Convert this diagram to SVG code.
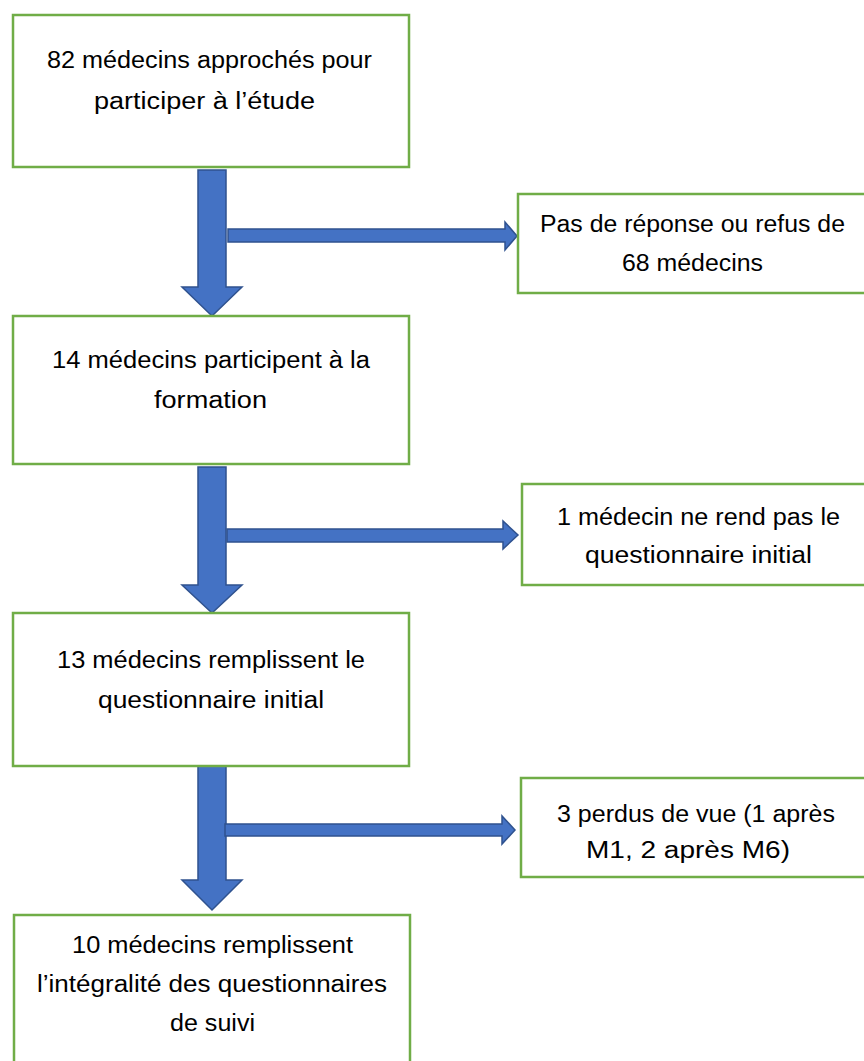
<svg xmlns="http://www.w3.org/2000/svg" width="864" height="1061" viewBox="0 0 864 1061">
<style>
.box{fill:#fff;stroke:#70AD47;stroke-width:2.5}
.arr{fill:#4472C4;stroke:#2F528F;stroke-width:1.5;stroke-linejoin:miter}
text{font-family:"Liberation Sans",Arial,sans-serif;font-size:23px;fill:#000;text-anchor:middle}
</style>
<rect width="864" height="1061" fill="#fff"/>
<g id="connectors">
<polygon class="arr" points="198,170 226,170 226,287 242,287 212,316 182,287 198,287"/>
<polygon class="arr" points="228,229 505,229 505,222 517,236 505,250 505,242 228,242"/>
<polygon class="arr" points="198,467 226,467 226,585 242,585 212,613 182,585 198,585"/>
<polygon class="arr" points="227,529 503,529 503,521 518,535 503,549 503,542 227,542"/>
<polygon class="arr" points="198,765 226,765 226,880 242,880 212,910 182,880 198,880"/>
<polygon class="arr" points="225,824 502,824 502,816 515,830 502,844 502,836 225,836"/>
</g>
<g id="n1">
<rect class="box" x="13" y="15" width="396" height="152"/>
<text x="209.5" y="68" textLength="325" lengthAdjust="spacingAndGlyphs">82 médecins approchés pour</text>
<text x="204.5" y="109" textLength="221" lengthAdjust="spacingAndGlyphs">participer à l’étude</text>
</g>
<g id="n2">
<rect class="box" x="13" y="316" width="396" height="148"/>
<text x="211" y="368" textLength="318" lengthAdjust="spacingAndGlyphs">14 médecins participent à la</text>
<text x="210.5" y="408" textLength="113" lengthAdjust="spacingAndGlyphs">formation</text>
</g>
<g id="n3">
<rect class="box" x="13" y="613" width="396" height="153"/>
<text x="211" y="668" textLength="308" lengthAdjust="spacingAndGlyphs">13 médecins remplissent le</text>
<text x="211" y="708" textLength="226" lengthAdjust="spacingAndGlyphs">questionnaire initial</text>
</g>
<g id="n4">
<rect class="box" x="14" y="915" width="396" height="160"/>
<text x="212.5" y="953" textLength="281" lengthAdjust="spacingAndGlyphs">10 médecins remplissent</text>
<text x="212" y="992" textLength="350" lengthAdjust="spacingAndGlyphs">l’intégralité des questionnaires</text>
<text x="212.5" y="1031" textLength="85" lengthAdjust="spacingAndGlyphs">de suivi</text>
</g>
<g id="r1">
<rect class="box" x="518" y="194" width="352" height="99"/>
<text x="692.5" y="232" textLength="305" lengthAdjust="spacingAndGlyphs">Pas de réponse ou refus de</text>
<text x="692.5" y="271" textLength="141" lengthAdjust="spacingAndGlyphs">68 médecins</text>
</g>
<g id="r2">
<rect class="box" x="522" y="484" width="348" height="101"/>
<text x="698.5" y="525" textLength="283" lengthAdjust="spacingAndGlyphs">1 médecin ne rend pas le</text>
<text x="698.5" y="563" textLength="227" lengthAdjust="spacingAndGlyphs">questionnaire initial</text>
</g>
<g id="r3">
<rect class="box" x="521" y="778" width="349" height="99"/>
<text x="696" y="822" textLength="278" lengthAdjust="spacingAndGlyphs">3 perdus de vue (1 après</text>
<text x="688" y="858" textLength="204" lengthAdjust="spacingAndGlyphs">M1, 2 après M6)</text>
</g>
</svg>
